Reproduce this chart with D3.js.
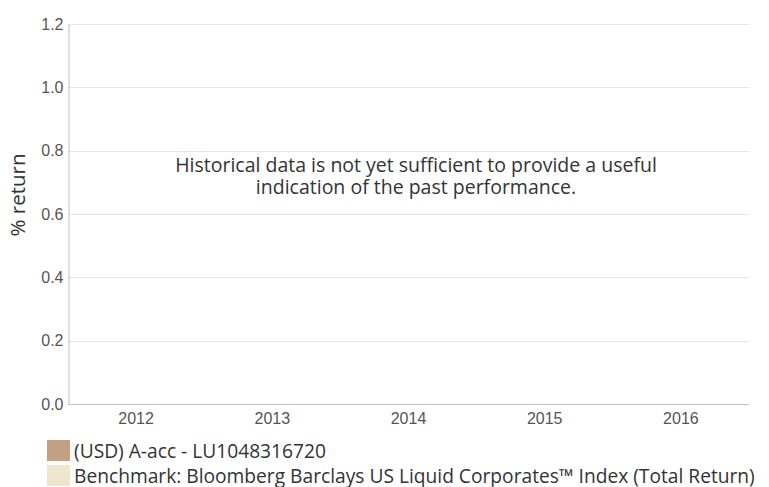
<!DOCTYPE html>
<html>
<head>
<meta charset="utf-8">
<script src="https://cdn.jsdelivr.net/npm/d3@7"></script>
<style>
  body { margin: 0; background: #fff; }
  svg { display: block; }
  .tick text { font-family: "Liberation Sans", Arial, sans-serif; font-size: 16px; fill: #555; }
  .label-text { font-family: "Open Sans", "Noto Sans", sans-serif; fill: #333; }
</style>
</head>
<body>
<div id="chart"></div>
<script>
const years = ["2012", "2013", "2014", "2015", "2016"];
const fundReturns = [null, null, null, null, null];
const benchmarkReturns = [null, null, null, null, null];
const yTicks = [0, 0.2, 0.4, 0.6, 0.8, 1.0, 1.2];
const seriesNames = [
  "(USD) A-acc - LU1048316720",
  "Benchmark: Bloomberg Barclays US Liquid Corporates™ Index (Total Return)",
];
const seriesColors = ["#c4a082", "#efe5cc"];
const noDataLines = [
  "Historical data is not yet sufficient to provide a useful",
  "indication of the past performance.",
];

const width = 769;
const height = 487;
const marginTop = 24;
const marginRight = 20;
const marginLeft = 68;
const plotBottom = 404;

const svg = d3
  .select("#chart")
  .append("svg")
  .attr("width", width)
  .attr("height", height);

const x = d3
  .scaleBand()
  .domain(years)
  .range([marginLeft, width - marginRight])
  .paddingInner(0.2)
  .paddingOuter(0.1);

const xSeries = d3
  .scaleBand()
  .domain([0, 1])
  .range([0, x.bandwidth()]);

const y = d3
  .scaleLinear()
  .domain([0, 1.2])
  .range([plotBottom, marginTop]);

// grid
svg
  .append("g")
  .attr("class", "grid-g")
  .selectAll("line")
  .data(yTicks.filter((d) => d > 0))
  .join("line")
  .attr("x1", marginLeft)
  .attr("x2", width - marginRight)
  .attr("y1", (d) => Math.round(y(d)) + 0.5)
  .attr("y2", (d) => Math.round(y(d)) + 0.5)
  .attr("stroke", "#e6e6e6");

// y axis
const gY = svg
  .append("g")
  .attr("transform", `translate(${marginLeft + 0.5},0)`)
  .call(
    d3
      .axisLeft(y)
      .tickValues(yTicks)
      .tickFormat(d3.format(".1f"))
      .tickSize(0)
      .tickPadding(5)
  );
gY.select(".domain").attr("stroke", "#c0c0c0");
gY.selectAll(".tick text").attr("dy", "0.32em");

// x axis
const gX = svg
  .append("g")
  .attr("transform", `translate(0,${plotBottom + 0.5})`)
  .call(d3.axisBottom(x).tickSize(0).tickPadding(8));
gX.select(".domain").attr("stroke", "#c0c0c0").attr("d", `M${marginLeft},0H${width - marginRight}`);

// bars (no values available yet)
const barData = years.flatMap((yr, i) => [
  { year: yr, s: 0, v: fundReturns[i] },
  { year: yr, s: 1, v: benchmarkReturns[i] },
]).filter((d) => d.v !== null);

svg
  .append("g")
  .selectAll("rect")
  .data(barData)
  .join("rect")
  .attr("x", (d) => x(d.year) + xSeries(d.s))
  .attr("width", xSeries.bandwidth())
  .attr("y", (d) => y(Math.max(0, d.v)))
  .attr("height", (d) => Math.abs(y(d.v) - y(0)))
  .attr("fill", (d) => seriesColors[d.s]);

// axis title
svg
  .append("text")
  .attr("class", "label-text")
  .attr("transform", `translate(25,195)rotate(-90)`)
  .attr("text-anchor", "middle")
  .attr("font-size", 20.5)
  .text("% return");

// no data message
svg
  .append("g")
  .selectAll("text")
  .data(noDataLines)
  .join("text")
  .attr("class", "label-text")
  .attr("text-anchor", "middle")
  .attr("font-size", 19.5)
  .attr("x", 416)
  .attr("y", (d, i) => 172 + i * 22)
  .text((d) => d);

// legend
const legend = svg
  .append("g")
  .selectAll("g")
  .data(seriesNames)
  .join("g")
  .attr("transform", (d, i) => `translate(47,${440 + i * 25})`);

legend
  .append("rect")
  .attr("width", 23)
  .attr("height", 21)
  .attr("fill", (d, i) => seriesColors[i]);

legend
  .append("text")
  .attr("class", "label-text")
  .attr("x", 27)
  .attr("y", 18)
  .attr("font-size", 19.2)
  .text((d) => d);
</script>
</body>
</html>
